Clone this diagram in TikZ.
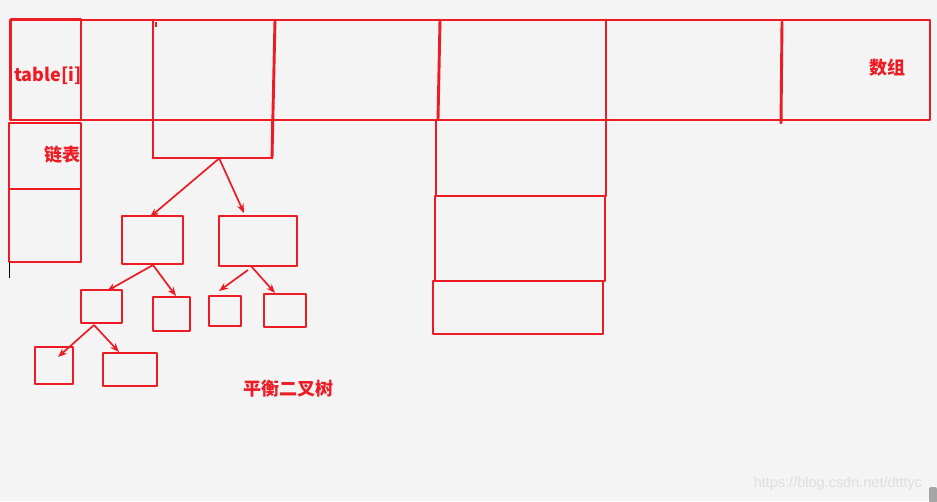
\documentclass[tikz,border=0pt]{standalone}
\usepackage{fontspec}
\setmainfont{Liberation Sans}
\newfontfamily\cjk{Noto Sans CJK SC}
\usetikzlibrary{arrows.meta,calc}
\definecolor{bgc}{RGB}{244,244,244}
\definecolor{pen}{RGB}{237,28,36}
\definecolor{wm}{RGB}{222,222,222}
\tikzset{
  ln/.style={draw=pen,line width=2.9pt,line join=round,line cap=round},
  box/.style={ln,rectangle,inner sep=0pt,outer sep=0pt,anchor=north west},
  arr/.style={draw=pen,line width=1.7pt,-{Stealth[length=9pt,width=7pt]}},
  lbl/.style={text=pen,font=\cjk\bfseries\fontsize{18}{20}\selectfont,inner sep=0pt}
}
\newcommand{\bx}[5]{\node[box,minimum width=#4pt,minimum height=#5pt] (#1) at (#2,#3) {};}
\begin{document}
\begin{tikzpicture}[x=1pt,y=-1pt]
\fill[bgc] (0,0) rectangle (937,501);
\useasboundingbox (0,0) rectangle (937,501);
% array
\bx{array}{10}{20}{920}{100}
\bx{cell}{11}{19}{70}{101}
% column dividers
\draw[ln] (153,20) -- (153,158);
\draw[ln] (275,20) -- (272,158);
\draw[ln] (440,20) -- (438,120);
\draw[ln] (606,20) -- (606,120);
\draw[ln] (782,22) -- (781,123);
\draw[draw=pen,line width=1.3pt] (156,22) -- (156,27);
% linked list
\bx{l1}{9}{123}{72}{66}
\bx{l2}{9}{189}{72}{73}
\draw[black,line width=0.8pt] (9.5,262) -- (9.5,278);
% tree
\bx{root}{153}{120}{119}{38}
\bx{na}{122}{216}{61}{48}
\bx{nb}{219}{216}{78}{50}
\bx{nc}{81}{290}{41}{33}
\bx{nd}{153}{297}{37}{34}
\bx{ne}{209}{296}{32}{30}
\bx{nf}{264}{294}{42}{33}
\bx{ng}{35}{347}{38}{37}
\bx{nh}{103}{353}{54}{33}
% right column
\bx{c1}{436}{120}{170}{76}
\bx{c2}{435}{196}{170}{85}
\bx{c3}{433}{281}{170}{53}
% arrows
\draw[arr] ($(root.south)+(6,1)$) -- ($(na.north west)+(28,1)$);
\draw[arr] ($(root.south)+(7,1)$) -- ($(nb.north west)+(25,-3)$);
\draw[arr] ($(na.south west)+(31,1)$) -- ($(nc.north west)+(26,1)$);
\draw[arr] ($(na.south west)+(31,1)$) -- ($(nd.north west)+(23,-1)$);
\draw[arr] ($(nb.south west)+(29,4)$) -- ($(ne.north west)+(10,-5)$);
\draw[arr] ($(nb.south west)+(32,0)$) -- ($(nf.north west)+(11,-1)$);
\draw[arr] ($(nc.south west)+(13,2)$) -- ($(ng.north west)+(23,10)$);
\draw[arr] ($(nc.south west)+(13,2)$) -- ($(nh.north west)+(16,-1)$);
% labels
\node[lbl] (t1) at (48,76) {table[i]};
\node[lbl] (t2) at (62,155) {链表};
\node[lbl] (t3) at (887,68) {数组};
\node[lbl] (t4) at (288,389) {平衡二叉树};
\node[text=wm,font=\fontsize{14.5}{16}\selectfont,inner sep=0pt] (wmk) at (838,484) {https://blog.csdn.net/dtttyc};
\fill[gray!70,rounded corners=2pt] (929,487) rectangle (937,503);
\end{tikzpicture}
\end{document}
